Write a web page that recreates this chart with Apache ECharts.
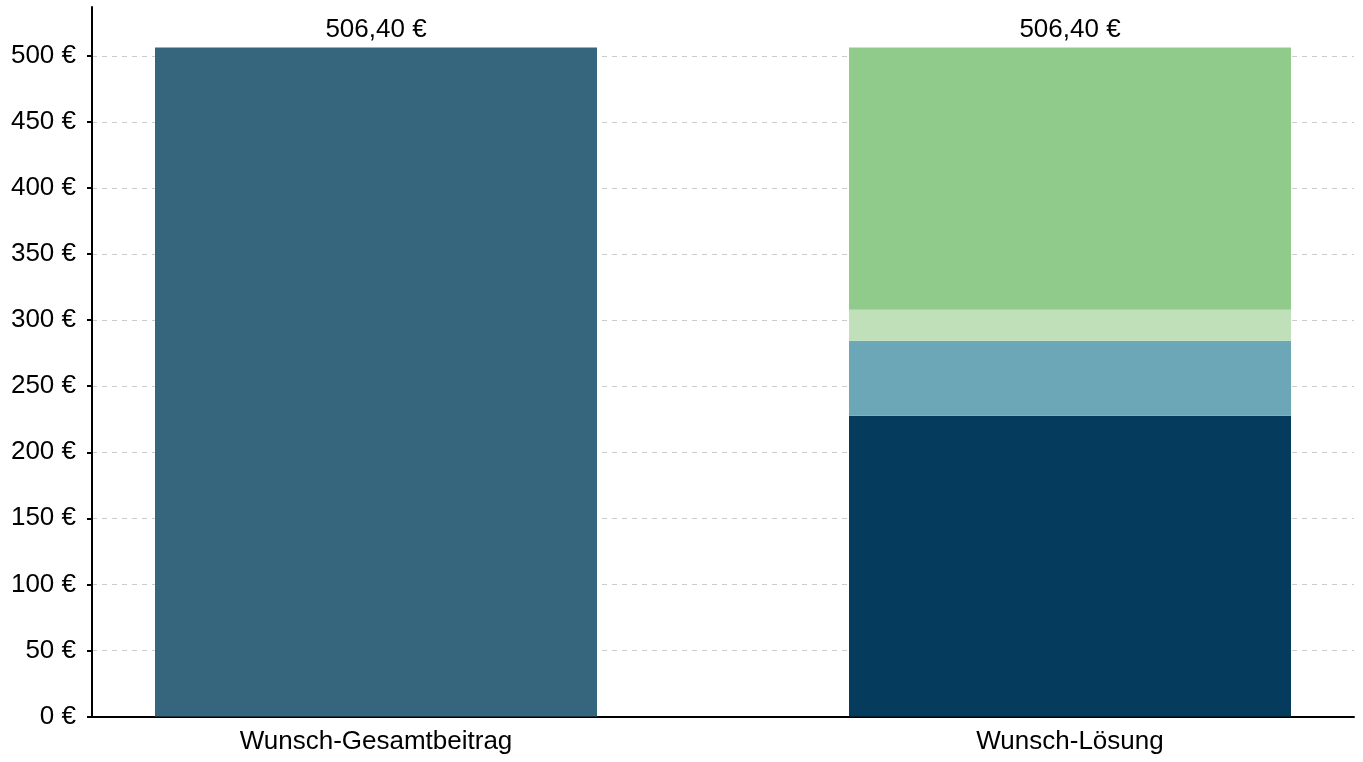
<!DOCTYPE html>
<html>
<head>
<meta charset="utf-8">
<script src="https://cdn.jsdelivr.net/npm/echarts@6/dist/echarts.min.js"></script>
<style>html,body{margin:0;padding:0;background:#fff}#c{width:1363px;height:762px}</style>
</head>
<body>
<div id="c"></div>
<script>
const categories = ['Wunsch-Gesamtbeitrag', 'Wunsch-Lösung'];
const gesamt = [506.40, null];
const teil1 = [null, 227.70];
const teil2 = [null, 56.70];
const teil3 = [null, 23.50];
const teil4 = [null, 198.50];
const yTicks = [0, 50, 100, 150, 200, 250, 300, 350, 400, 450, 500];
const colors = ['#36667d', '#053b5c', '#6ca7b8', '#bfe0b9', '#91cb8b'];

const allSeries = [gesamt, teil1, teil2, teil3, teil4];
const totals = categories.map((_, i) => allSeries.reduce((s, a) => s + (a[i] || 0), 0));
const fmt = v => v.toFixed(2).replace('.', ',') + ' €';
const FONT = 'Liberation Sans, Arial, sans-serif';

const chart = echarts.init(document.getElementById('c'), null, {renderer: 'canvas'});
const yMax = 537;
const series = allSeries.map((d, k) => ({
  type: 'bar',
  xAxisIndex: 0, yAxisIndex: 0,
  stack: 'total',
  data: d,
  barWidth: 442,
  clip: false,
  itemStyle: {color: colors[k]},
  label: {
    show: k === 0 || k === allSeries.length - 1,
    position: 'top',
    distance: 5,
    color: '#000',
    fontSize: 26,
    fontFamily: FONT,
    formatter: p => (p.value == null ? '' : fmt(totals[p.dataIndex]))
  }
}));

chart.setOption({
  animation: false,
  grid: [
    {left: 376, right: 1363 - 1070, top: 7, bottom: 45.5, containLabel: false},
    {left: 92, right: 9, top: 7, bottom: 45.5, containLabel: false}
  ],
  xAxis: [
    {
      gridIndex: 0, type: 'category', data: categories, boundaryGap: false,
      axisLine: {show: false}, axisTick: {show: false}, splitLine: {show: false},
      axisLabel: {color: '#000', fontSize: 26, fontFamily: FONT, margin: 12, interval: 0}
    },
    {
      gridIndex: 1, type: 'category', data: ['a'],
      axisLine: {show: true, lineStyle: {color: '#000', width: 2}},
      axisTick: {show: false}, axisLabel: {show: false}, splitLine: {show: false}
    }
  ],
  yAxis: [
    {
      gridIndex: 0, type: 'value', min: 0, max: yMax, interval: 50, offset: 376 - 92,
      axisLine: {show: true, lineStyle: {color: '#000', width: 2}},
      axisTick: {show: true, length: 5, lineStyle: {color: '#000', width: 2}},
      splitLine: {show: false},
      axisLabel: {
        color: '#000', fontSize: 26, fontFamily: FONT, margin: 16,
        showMaxLabel: false,
        formatter: v => (yTicks.indexOf(v) >= 0 ? v + ' €' : '')
      }
    },
    {
      gridIndex: 1, type: 'value', min: 0, max: yMax, interval: 50,
      axisLine: {show: false}, axisTick: {show: false}, axisLabel: {show: false},
      splitLine: {show: true, showMaxLine: false, lineStyle: {color: '#cccccc', width: 1, type: [5, 5]}}
    }
  ],
  series: series
});
</script>
</body>
</html>
